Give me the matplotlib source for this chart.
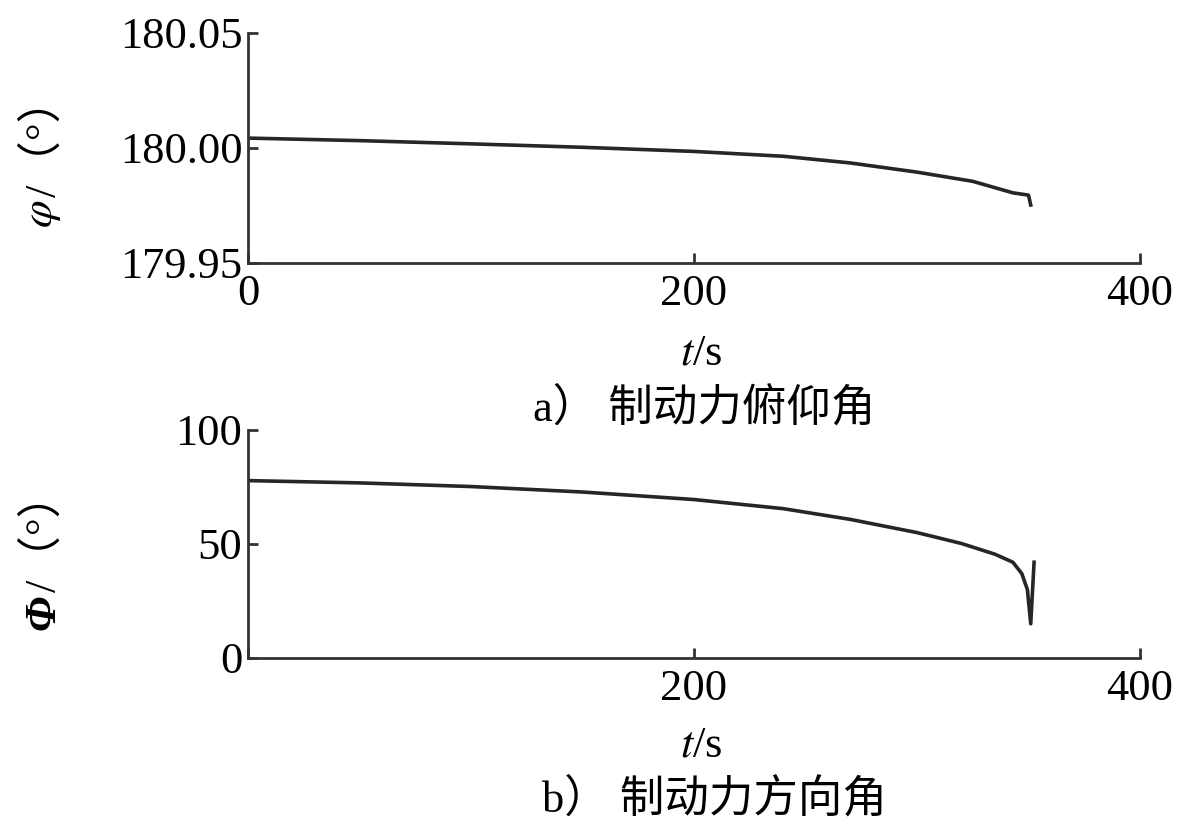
import matplotlib
matplotlib.use("Agg")
import matplotlib.pyplot as plt
import numpy as np

plt.rcParams['font.family'] = ['Liberation Serif', 'Noto Sans CJK SC', 'DejaVu Sans']
plt.rcParams['mathtext.fontset'] = 'stix'

# 数据
t_pitch = [0, 50, 100, 150, 200, 240, 270, 300, 325, 343, 350, 351]
pitch = [180.0043, 180.0032, 180.0018, 180.0003, 179.9985, 179.9964, 179.9935,
         179.9895, 179.9855, 179.9805, 179.9795, 179.9752]

t_dir = [0, 50, 100, 150, 200, 240, 270, 300, 320, 335, 343, 347, 349.5, 351, 352.5]
direction = [77.8, 76.8, 75.2, 72.8, 69.5, 65.5, 60.8, 55.0, 50.2, 45.5, 42.0,
             37.0, 30.0, 15.0, 42.0]

pitch_yticks = [179.95, 180.00, 180.05]
dir_yticks = [0, 50, 100]
xticks = [0, 200, 400]

line_col = '#262626'
fs = 32
cjk = ['Liberation Serif', 'Noto Sans CJK SC']

fig = plt.figure(figsize=(12, 8.33), dpi=100)
ax1 = fig.add_axes([0.2067, 0.6843, 0.7433, 0.2761])
ax2 = fig.add_axes([0.2067, 0.2101, 0.7433, 0.2737])

ax1.plot(t_pitch, pitch, color=line_col, lw=2.6)
ax1.set_xlim(0, 400)
ax1.set_ylim(179.95, 180.05)
ax1.set_yticks(pitch_yticks)
ax1.set_yticklabels([f'{v:.2f}' for v in pitch_yticks])
ax1.set_xticks(xticks)

ax2.plot(t_dir, direction, color=line_col, lw=2.6)
ax2.set_xlim(0, 400)
ax2.set_ylim(0, 100)
ax2.set_yticks(dir_yticks)
ax2.set_xticks(xticks)
ax2.set_xticklabels(['', '200', '400'])

for ax in (ax1, ax2):
    for s in ('top', 'right'):
        ax.spines[s].set_visible(False)
    for s in ('left', 'bottom'):
        ax.spines[s].set_linewidth(2.0)
        ax.spines[s].set_color('#333333')
    ax.tick_params(direction='in', length=7, width=2.0, color='#333333',
                   labelsize=fs, pad=4)
    ax.tick_params(axis='x', pad=8)

# y轴标签: 斜体符号 + "/（°）" 分开画
renderer = fig.canvas.get_renderer()


def ylabel(sym, x, y_bottom, **kw):
    h = fig.text(x, y_bottom, sym, rotation=90, ha='center', va='bottom',
                 fontsize=fs, **kw)
    bb = h.get_window_extent(renderer).transformed(fig.transFigure.inverted())
    fig.text(x, bb.y1 + 0.003, '/（°）', rotation=90, ha='center', va='bottom',
             fontsize=fs, family=cjk)


ylabel(r'$\varphi$', 0.036, 1 - 228 / 833)
ylabel('Φ', 0.036, 1 - 630 / 833, family='Liberation Serif', style='italic',
       weight='bold')

fig.text(0.584, 0.576, r'$t$/s', ha='center', va='center', fontsize=fs)
fig.text(0.584, 0.105, r'$t$/s', ha='center', va='center', fontsize=fs)
fig.text(0.587, 0.51, 'a） 制动力俯仰角', ha='center', va='center', fontsize=fs,
         family=cjk, weight='medium')
fig.text(0.595, 0.04, 'b） 制动力方向角', ha='center', va='center', fontsize=fs,
         family=cjk, weight='medium')

fig.savefig('out.png', dpi=100, facecolor='white')
